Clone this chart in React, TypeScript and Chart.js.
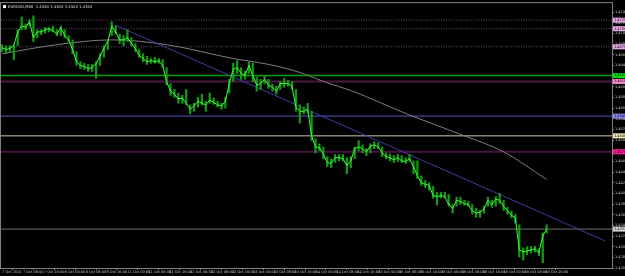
import React, { useEffect, useRef } from 'react';
import { Chart, registerables } from 'chart.js';
Chart.register(...registerables);

const HOURS_PER_BAR = 1.5;
const X_TICK_STEP_HOURS = 8;
const X_MIN_HOURS = -0.4;
const X_MAX_HOURS = 233.5;
const Y_MIN = 1.426;
const Y_MAX = 1.4757;

const headerText = 'EURUSD,M30  1.4330 1.4334 1.4323 1.4332';

const highs = [1.4679,1.4677,1.4677,1.4679,1.4707,1.4731,1.4718,1.4726,1.4733,1.4707,
1.4707,1.4711,1.4711,1.4714,1.4707,1.4714,1.4707,1.4696,1.4688,1.4666,
1.4647,1.4644,1.4642,1.4642,1.4647,1.4662,1.4677,1.4688,1.4722,1.4714,
1.4699,1.4696,1.4707,1.4692,1.4681,1.4670,1.4662,1.4657,1.4653,1.4655,
1.4653,1.4651,1.4636,1.4606,1.4595,1.4588,1.4584,1.4595,1.4566,1.4569,
1.4580,1.4586,1.4573,1.4588,1.4579,1.4573,1.4569,1.4580,1.4614,1.4644,
1.4649,1.4636,1.4629,1.4646,1.4644,1.4618,1.4614,1.4620,1.4614,1.4605,
1.4601,1.4610,1.4616,1.4612,1.4610,1.4595,1.4566,1.4562,1.4569,1.4554,
1.4502,1.4493,1.4487,1.4469,1.4465,1.4473,1.4473,1.4473,1.4467,1.4469,
1.4487,1.4499,1.4491,1.4484,1.4493,1.4497,1.4495,1.4487,1.4476,1.4474,
1.4471,1.4473,1.4471,1.4467,1.4473,1.4461,1.4461,1.4433,1.4424,1.4420,
1.4413,1.4402,1.4402,1.4402,1.4398,1.4379,1.4393,1.4393,1.4387,1.4385,
1.4379,1.4372,1.4368,1.4376,1.4393,1.4387,1.4394,1.4400,1.4387,1.4374,
1.4367,1.4361,1.4341,1.4298,1.4300,1.4300,1.4301,1.4296,1.4326,1.4341];

const lows = [1.4666,1.4662,1.4666,1.4651,1.4677,1.4707,1.4707,1.4714,1.4685,1.4692,
1.4698,1.4701,1.4703,1.4703,1.4696,1.4696,1.4692,1.4685,1.4662,1.4640,
1.4634,1.4633,1.4629,1.4629,1.4616,1.4640,1.4655,1.4670,1.4696,1.4699,
1.4681,1.4677,1.4685,1.4677,1.4666,1.4655,1.4647,1.4642,1.4644,1.4644,
1.4644,1.4636,1.4603,1.4584,1.4580,1.4569,1.4569,1.4566,1.4549,1.4554,
1.4562,1.4566,1.4554,1.4569,1.4567,1.4562,1.4558,1.4560,1.4588,1.4610,
1.4625,1.4614,1.4614,1.4625,1.4610,1.4592,1.4595,1.4606,1.4597,1.4592,
1.4586,1.4595,1.4599,1.4601,1.4595,1.4554,1.4532,1.4549,1.4551,1.4499,
1.4476,1.4480,1.4465,1.4450,1.4448,1.4458,1.4461,1.4461,1.4437,1.4448,
1.4465,1.4480,1.4476,1.4471,1.4476,1.4484,1.4484,1.4469,1.4465,1.4461,
1.4458,1.4460,1.4458,1.4456,1.4460,1.4437,1.4428,1.4415,1.4411,1.4406,
1.4391,1.4378,1.4391,1.4391,1.4376,1.4363,1.4376,1.4379,1.4378,1.4376,
1.4361,1.4355,1.4355,1.4363,1.4376,1.4374,1.4376,1.4381,1.4368,1.4361,
1.4354,1.4344,1.4281,1.4275,1.4285,1.4288,1.4290,1.4283,1.4270,1.4326];

const closes = [1.4673,1.4670,1.4672,1.4677,1.4703,1.4714,1.4712,1.4722,1.4692,1.4703,
1.4703,1.4707,1.4709,1.4705,1.4699,1.4711,1.4696,1.4688,1.4670,1.4647,
1.4640,1.4638,1.4634,1.4636,1.4644,1.4657,1.4673,1.4685,1.4714,1.4703,
1.4688,1.4688,1.4692,1.4681,1.4672,1.4659,1.4653,1.4647,1.4649,1.4647,
1.4649,1.4640,1.4610,1.4592,1.4586,1.4577,1.4579,1.4569,1.4558,1.4564,
1.4573,1.4569,1.4566,1.4575,1.4571,1.4566,1.4564,1.4573,1.4606,1.4633,
1.4636,1.4625,1.4621,1.4640,1.4621,1.4603,1.4606,1.4614,1.4603,1.4599,
1.4592,1.4606,1.4606,1.4606,1.4601,1.4562,1.4554,1.4554,1.4558,1.4508,
1.4487,1.4486,1.4473,1.4458,1.4456,1.4467,1.4467,1.4465,1.4452,1.4461,
1.4484,1.4487,1.4484,1.4478,1.4489,1.4491,1.4487,1.4476,1.4469,1.4467,
1.4463,1.4467,1.4461,1.4460,1.4465,1.4450,1.4433,1.4420,1.4417,1.4415,
1.4396,1.4394,1.4396,1.4394,1.4379,1.4372,1.4387,1.4385,1.4381,1.4379,
1.4367,1.4363,1.4365,1.4370,1.4387,1.4379,1.4389,1.4387,1.4376,1.4367,
1.4359,1.4354,1.4294,1.4290,1.4292,1.4294,1.4296,1.4288,1.4320,1.4333];

const maBarIndex = [0, 14, 28, 42, 59, 68, 76, 82, 89, 104, 118, 128, 139];
const maValues = [1.4662, 1.4679, 1.4688, 1.4679, 1.4653, 1.4642, 1.4627, 1.4610, 1.4593, 1.4547, 1.4508, 1.4478, 1.4426];

const trendHours = [43.25, 230.8];
const trendValues = [1.4716, 1.4311];

const levelPrices = [1.4725, 1.4709, 1.4675, 1.4621, 1.4610, 1.4545, 1.4508, 1.4478, 1.4333];
const levelColors = ['#6a4c6a', '#6a4c6a', '#6a4c6a', '#00a000', '#4a1840', '#44449a', '#8e8474', '#4a1040', '#707070'];
const levelWidths = [1, 1, 1, 1.5, 2, 1.2, 1.5, 2, 1];
const levelDashed = [true, true, true, false, false, false, false, false, false];
const levelLabelColors = ['#e6a6e6', '#e6a6e6', '#e6a6e6', '#00e000', '#f08ccc', '#8888f4', '#f4e4b4', '#ff1c96', '#d8d8d8'];

const yTickValues = [1.4260, 1.4280, 1.4300, 1.4320, 1.4340, 1.4360, 1.4380, 1.4400, 1.4420, 1.4440,
1.4460, 1.4480, 1.4500, 1.4520, 1.4540, 1.4560, 1.4580, 1.4600, 1.4620, 1.4640,
1.4660, 1.4680, 1.4700, 1.4720, 1.4740];

const xTickLabels = ['7 Oct 2010', '7 Oct 08:00', '7 Oct 16:00', '8 Oct 00:00', '8 Oct 08:00', '8 Oct 16:00',
'11 Oct 00:00', '11 Oct 08:00', '11 Oct 16:00', '12 Oct 00:00', '12 Oct 08:00', '12 Oct 16:00',
'13 Oct 00:00', '13 Oct 08:00', '13 Oct 16:00', '14 Oct 00:00', '14 Oct 08:00', '14 Oct 16:00',
'15 Oct 00:00', '15 Oct 08:00', '15 Oct 16:00', '18 Oct 00:00', '18 Oct 08:00', '18 Oct 16:00',
'19 Oct 00:00', '19 Oct 08:00', '19 Oct 16:00'];

const FONT = '"DejaVu Sans", sans-serif';

const mtPlugin = {
  id: 'mtDecor',
  beforeDraw(chart: any) {
    const { ctx, width, height } = chart;
    ctx.save();
    ctx.fillStyle = '#000000';
    ctx.fillRect(0, 0, width, height);
    ctx.restore();
  },
  afterDraw(chart: any) {
    const { ctx, chartArea: a, scales } = chart;
    const ys = scales.y;
    ctx.save();
    ctx.strokeStyle = '#808080';
    ctx.lineWidth = 1;
    ctx.strokeRect(a.left - 0.5, a.top - 0.5, a.right - a.left + 1, a.bottom - a.top + 1);
    ctx.font = '3.5px ' + FONT;
    ctx.textBaseline = 'middle';
    ctx.textAlign = 'left';
    levelPrices.forEach((p, k) => {
      const py = ys.getPixelForValue(p);
      ctx.fillStyle = levelLabelColors[k];
      ctx.fillRect(a.right + 1, py - 2.5, 13, 5);
      ctx.fillStyle = '#000000';
      ctx.fillText(p.toFixed(4), a.right + 2, py);
    });
    ctx.fillStyle = '#ffffff';
    ctx.fillRect(a.left + 2, a.top + 2, 3, 3);
    ctx.fillStyle = '#e0e0e0';
    ctx.font = '3.8px ' + FONT;
    ctx.fillText(headerText, a.left + 7, a.top + 3.8);
    ctx.restore();
  },
};

export default function App() {
  const ref = useRef<HTMLCanvasElement>(null);
  useEffect(() => {
    document.body.style.margin = '0';
    document.body.style.background = '#000';
    const canvas = ref.current!;
    const barData = highs.map((h, i) => ({ x: i * HOURS_PER_BAR, y: [lows[i], h] }));
    const closeData = closes.map((c, i) => ({ x: i * HOURS_PER_BAR, y: c }));
    const maData = maBarIndex.map((b, k) => ({ x: b * HOURS_PER_BAR, y: maValues[k] }));
    const trendData = trendHours.map((h, k) => ({ x: h, y: trendValues[k] }));
    const levelSets = levelPrices.map((p, k) => ({
      type: 'line' as const,
      data: [{ x: X_MIN_HOURS, y: p }, { x: X_MAX_HOURS, y: p }],
      borderColor: levelColors[k],
      borderWidth: levelWidths[k],
      borderDash: levelDashed[k] ? [1, 1.5] : [],
      pointRadius: 0,
      order: 10,
    }));
    const chart = new Chart(canvas, {
      type: 'bar',
      data: {
        datasets: [
          {
            type: 'bar',
            data: barData as any,
            backgroundColor: '#129a12',
            borderWidth: 0,
            barThickness: 1.6,
            order: 1,
          },
          {
            type: 'line',
            data: closeData,
            borderColor: '#40f840',
            borderWidth: 1,
            pointRadius: 0,
            tension: 0,
            order: 0,
          },
          {
            type: 'line',
            data: maData,
            borderColor: '#7e7e7e',
            borderWidth: 1,
            pointRadius: 0,
            cubicInterpolationMode: 'monotone',
            order: 3,
          },
          {
            type: 'line',
            data: trendData,
            borderColor: '#3c3ca6',
            borderWidth: 1,
            pointRadius: 0,
            order: 2,
          },
          ...levelSets,
        ] as any,
      },
      options: {
        responsive: false,
        animation: false,
        devicePixelRatio: 1,
        events: [],
        layout: { padding: { left: 1, top: 1, right: 0, bottom: 0 } },
        plugins: { legend: { display: false }, tooltip: { enabled: false } },
        scales: {
          x: {
            type: 'linear',
            min: X_MIN_HOURS,
            max: X_MAX_HOURS,
            offset: false,
            border: { display: false },
            grid: { display: true, drawOnChartArea: false, drawTicks: true, tickLength: 2, color: '#808080' },
            afterBuildTicks: (scale: any) => {
              scale.ticks = xTickLabels.map((_, k) => ({ value: k * X_TICK_STEP_HOURS }));
            },
            afterFit: (scale: any) => { scale.height = 8; },
            ticks: {
              autoSkip: false,
              maxRotation: 0,
              minRotation: 0,
              align: 'start',
              padding: 0,
              color: '#c4c4c4',
              font: { size: 3.5, family: FONT },
              callback: (v: any) => xTickLabels[Math.round(Number(v) / X_TICK_STEP_HOURS)] ?? '',
            },
          },
          y: {
            type: 'linear',
            position: 'right',
            min: Y_MIN,
            max: Y_MAX,
            border: { display: false },
            grid: { display: true, drawOnChartArea: false, drawTicks: true, tickLength: 2, color: '#808080' },
            afterBuildTicks: (scale: any) => {
              scale.ticks = yTickValues.map((v) => ({ value: v }));
            },
            afterFit: (scale: any) => { scale.width = 13; },
            ticks: {
              autoSkip: false,
              padding: 1,
              color: '#c4c4c4',
              font: { size: 3.5, family: FONT },
              callback: (v: any) => Number(v).toFixed(4),
            },
          },
        },
      } as any,
      plugins: [mtPlugin],
    });
    return () => chart.destroy();
  }, []);
  return (
    <div style={{ width: 625, height: 276, background: '#000' }}>
      <canvas ref={ref} width={625} height={276} style={{ display: 'block', width: 625, height: 276 }} />
    </div>
  );
}
